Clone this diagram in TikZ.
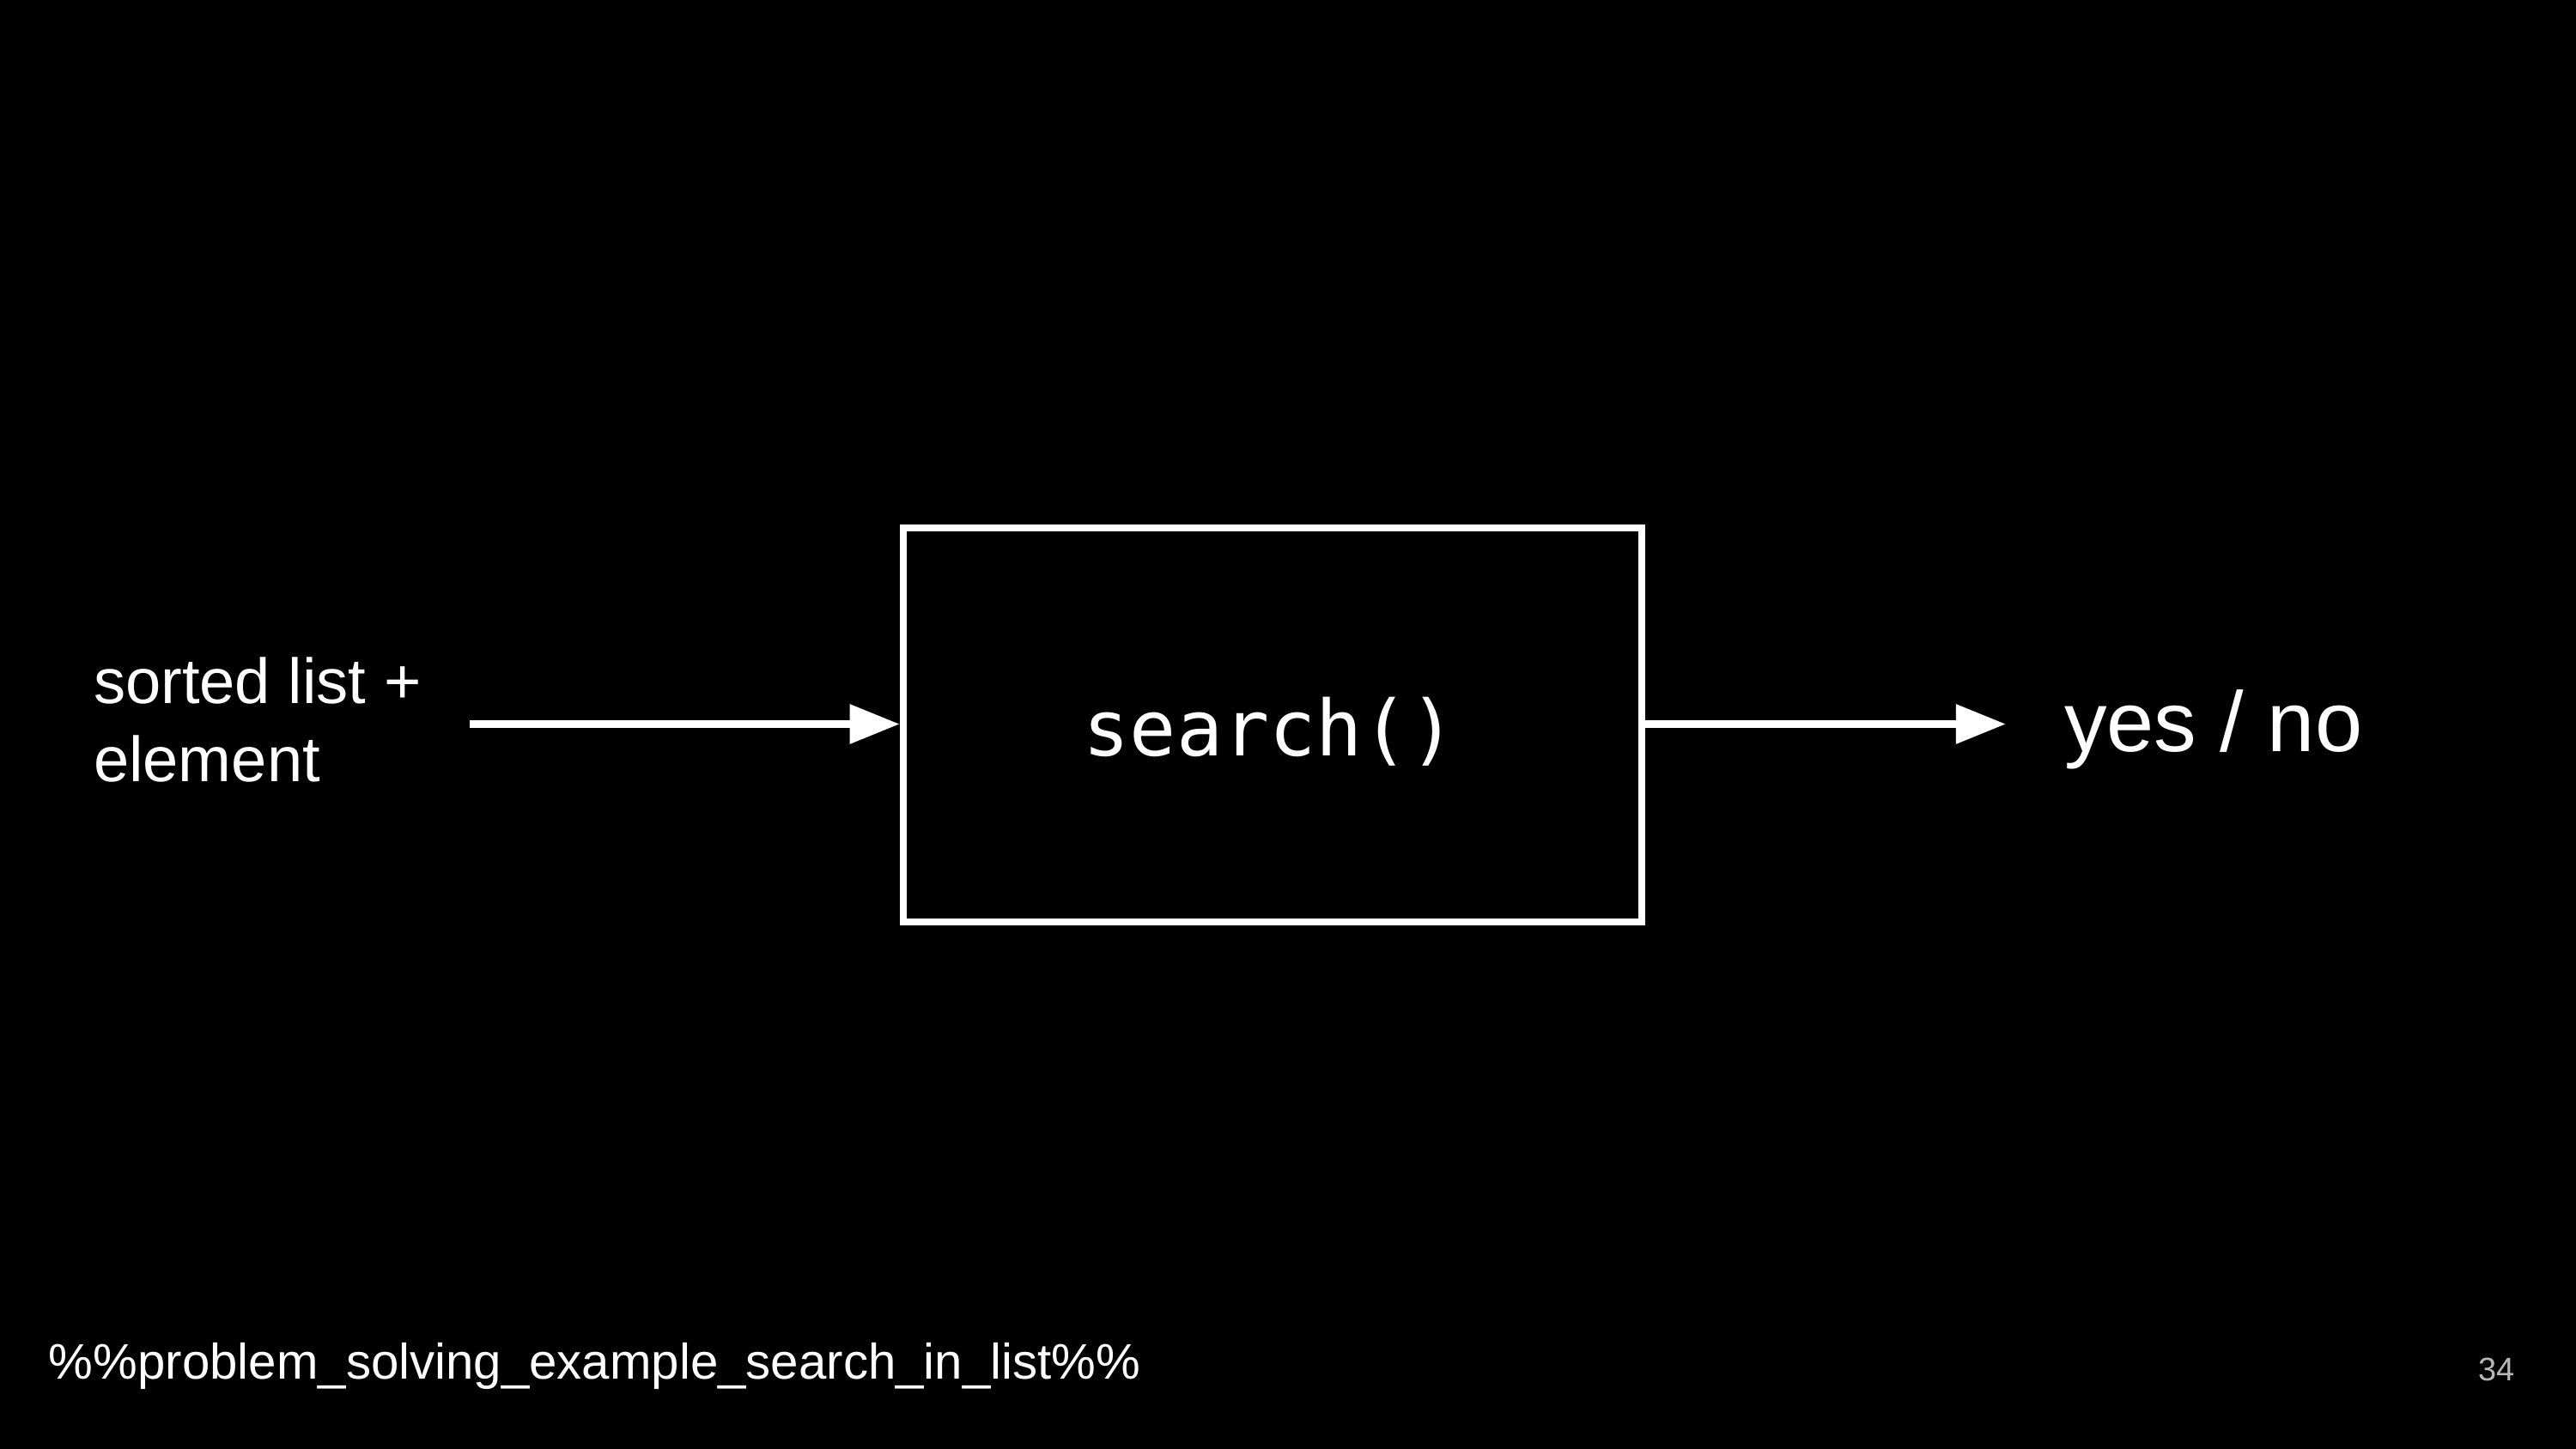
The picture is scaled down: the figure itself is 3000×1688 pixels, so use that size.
\documentclass[tikz,border=0pt]{standalone}
\usepackage{fontspec}
\setmainfont{Liberation Sans}
\newfontfamily\codefont{DejaVu Sans Mono}
\usetikzlibrary{arrows.meta}
\definecolor{pagenum}{HTML}{B8B8B8}
\begin{document}
\begin{tikzpicture}[x=0.01cm,y=-0.01cm,
  txt/.style={text=white,inner sep=0pt,outer sep=0pt},
  funcbox/.style={draw=white,line width=2.28pt,minimum width=8.6cm,minimum height=4.59cm,inner sep=0pt},
  flow/.style={draw=white,line width=2.56pt,-{Triangle[length=0.58cm,width=0.44cm]}}]
\fill[black] (0,0) rectangle (3000,1688);
\useasboundingbox (0,0) rectangle (3000,1688);
\node[funcbox] (box) at (1482,844.5) {};
\node[txt,anchor=base,font=\codefont\fontsize{25.6pt}{30pt}\selectfont] (func) at (1478.5,880) {search()};
\node[txt,anchor=base west,font=\fontsize{21.1pt}{27.6pt}\selectfont] (in1) at (109,819) {sorted list +};
\node[txt,anchor=base west,font=\fontsize{21.1pt}{27.6pt}\selectfont] (in2) at (109,910) {element};
\node[txt,anchor=base west,font=\fontsize{28.2pt}{33pt}\selectfont] (out) at (2404,875) {yes / no};
\coordinate (instart) at (547,843.5);
\coordinate (outend) at (2336,843.5);
\draw[flow] (instart) -- (instart -| box.west);
\draw[flow] (box.east |- outend) -- (outend);
\node[txt,anchor=base west,font=\fontsize{16.55pt}{20pt}\selectfont] (footer) at (57,1606) {\%\%problem\_solving\_example\_search\_in\_list\%\%};
\node[inner sep=0pt,text=pagenum,anchor=base east,font=\fontsize{10.8pt}{13pt}\selectfont] (page) at (2929,1608) {34};
\end{tikzpicture}
\end{document}
